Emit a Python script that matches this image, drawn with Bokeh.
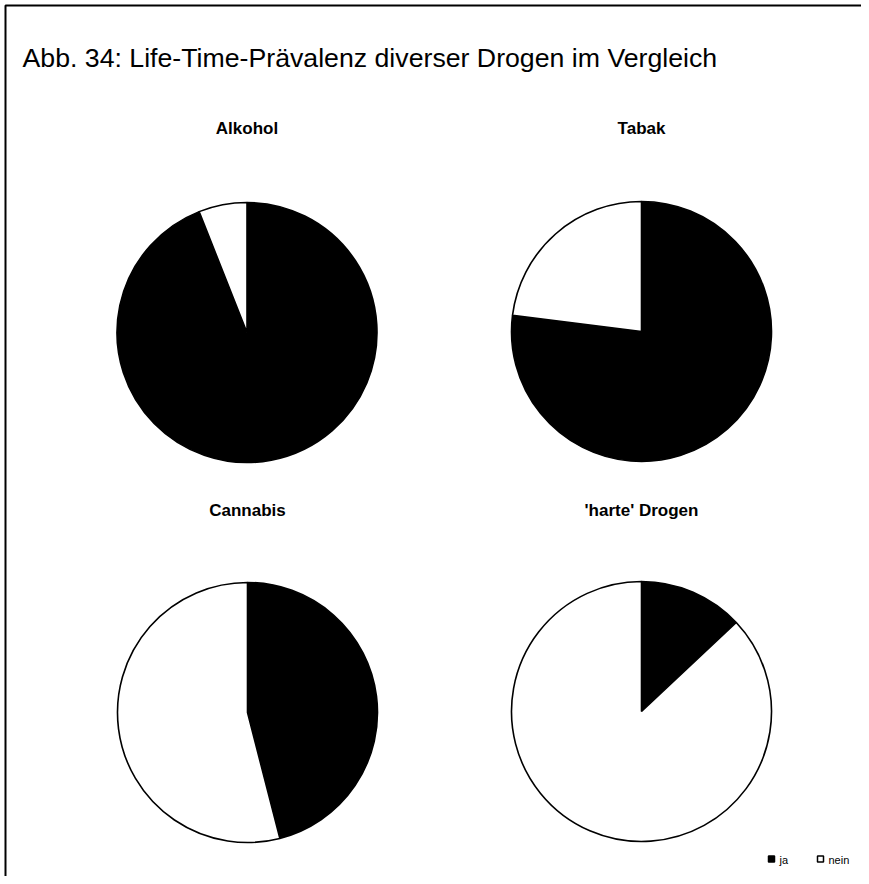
import math
from bokeh.plotting import figure
from bokeh.models import Range1d, ColumnDataSource
from bokeh.core.properties import value
from bokeh.embed import file_html
from bokeh.resources import INLINE

title = "Abb. 34: Life-Time-Prävalenz diverser Drogen im Vergleich"
categories = ["Alkohol", "Tabak", "Cannabis", "'harte' Drogen"]
ja = [94, 77, 46, 13]
nein = [6, 23, 54, 87]
series = ["ja", "nein"]
series_colors = ["black", "white"]

W, H = 861, 876
p = figure(width=W, height=H, output_backend="svg", toolbar_location=None,
           x_range=Range1d(0, W), y_range=Range1d(0, H), min_border=0)
p.axis.visible = False
p.grid.visible = False
p.outline_line_color = None
p.background_fill_color = "white"
p.border_fill_color = "white"

def sx(x):  # picture pixel -> data
    return x
def sy(y):
    return H - y

# frame (left and top)
p.line([sx(5), sx(5), sx(W)], [sy(H), sy(5), sy(5)], line_color="black", line_width=2)

p.text([sx(22)], [sy(57)], text=[title], text_font=value("Liberation Sans"),
       text_font_size="26.7px", text_baseline="middle", text_align="left", text_color="black")

centers = [(246.5, 332), (641, 331), (247, 712), (641, 711)]
title_y = [128, 128, 510, 510]
R = 130

for i, cat in enumerate(categories):
    cx, cy = centers[i]
    vals = [ja[i], nein[i]]
    tot = sum(vals)
    start = math.pi / 2
    starts, ends = [], []
    for v in vals:
        ang = 2 * math.pi * v / tot
        starts.append(start)
        ends.append(start - ang)
        start -= ang
    src = ColumnDataSource(dict(x=[sx(cx)] * 2, y=[sy(cy)] * 2, s=starts, e=ends,
                                c=series_colors, lab=series))
    p.wedge(x="x", y="y", radius=R, radius_units="screen", start_angle="s", end_angle="e",
            direction="clock", fill_color="c", line_color="black", line_width=1.6, source=src)
    p.text([sx(cx)], [sy(title_y[i])], text=[cat], text_font=value("Liberation Sans"),
           text_font_style="bold", text_font_size="17px", text_align="center",
           text_baseline="middle", text_color="black")

# legend
leg_x = [768, 817]
for j, s in enumerate(series):
    p.rect([sx(leg_x[j] + 3)], [sy(858.5)], width=6, height=6, width_units="screen",
           height_units="screen", fill_color=series_colors[j], line_color="black", line_width=1.5)
    p.text([sx(leg_x[j] + 11)], [sy(859)], text=[s], text_font=value("Liberation Sans"),
           text_font_size="11px", text_baseline="middle", text_align="left", text_color="black")

open("out.html", "w").write(file_html(p, INLINE))
